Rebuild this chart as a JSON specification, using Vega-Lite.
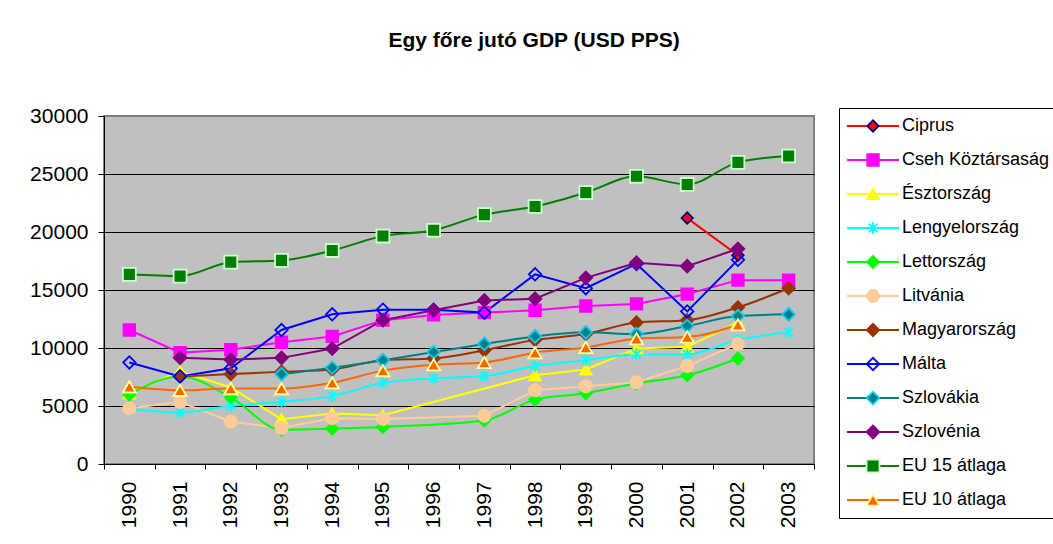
{
  "$schema": "https://vega.github.io/schema/vega-lite/v6.json",
  "padding": {"left": 28, "top": 30, "right": 0, "bottom": 0},
  "background": "white",
  "title": {"text": "Egy főre jutó GDP (USD PPS)", "anchor": "middle", "fontSize": 21, "font": "Liberation Sans", "fontWeight": "bold", "color": "black", "offset": 53, "dx": -8},
  "config": {"font": "Liberation Sans", "text": {"font": "Liberation Sans"}},
  "spacing": 22,
  "datasets": {
    "series": [
      {"orszag": "Ciprus"}, {"orszag": "Cseh Köztársaság"}, {"orszag": "Észtország"}, {"orszag": "Lengyelország"},
      {"orszag": "Lettország"}, {"orszag": "Litvánia"}, {"orszag": "Magyarország"}, {"orszag": "Málta"},
      {"orszag": "Szlovákia"}, {"orszag": "Szlovénia"}, {"orszag": "EU 15 átlaga"}, {"orszag": "EU 10 átlaga"}
    ],
    "gdp": [
      {"orszag": "Ciprus", "ev": "2001", "gdp": 21200},
      {"orszag": "Ciprus", "ev": "2002", "gdp": 18000},
      {"orszag": "Cseh Köztársaság", "ev": "1990", "gdp": 11550},
      {"orszag": "Cseh Köztársaság", "ev": "1991", "gdp": 9600},
      {"orszag": "Cseh Köztársaság", "ev": "1992", "gdp": 9850},
      {"orszag": "Cseh Köztársaság", "ev": "1993", "gdp": 10500},
      {"orszag": "Cseh Köztársaság", "ev": "1994", "gdp": 11000},
      {"orszag": "Cseh Köztársaság", "ev": "1995", "gdp": 12400},
      {"orszag": "Cseh Köztársaság", "ev": "1996", "gdp": 12850},
      {"orszag": "Cseh Köztársaság", "ev": "1997", "gdp": 13050},
      {"orszag": "Cseh Köztársaság", "ev": "1998", "gdp": 13250},
      {"orszag": "Cseh Köztársaság", "ev": "1999", "gdp": 13620},
      {"orszag": "Cseh Köztársaság", "ev": "2000", "gdp": 13800},
      {"orszag": "Cseh Köztársaság", "ev": "2001", "gdp": 14650},
      {"orszag": "Cseh Köztársaság", "ev": "2002", "gdp": 15850},
      {"orszag": "Cseh Köztársaság", "ev": "2003", "gdp": 15850},
      {"orszag": "Észtország", "ev": "1990", "gdp": 6100},
      {"orszag": "Észtország", "ev": "1991", "gdp": 8000},
      {"orszag": "Észtország", "ev": "1992", "gdp": 6600},
      {"orszag": "Észtország", "ev": "1993", "gdp": 3850},
      {"orszag": "Észtország", "ev": "1994", "gdp": 4350},
      {"orszag": "Észtország", "ev": "1995", "gdp": 4200},
      {"orszag": "Észtország", "ev": "1998", "gdp": 7650},
      {"orszag": "Észtország", "ev": "1999", "gdp": 8150},
      {"orszag": "Észtország", "ev": "2000", "gdp": 9950},
      {"orszag": "Észtország", "ev": "2001", "gdp": 10100},
      {"orszag": "Észtország", "ev": "2002", "gdp": 12200},
      {"orszag": "Lengyelország", "ev": "1990", "gdp": 4750},
      {"orszag": "Lengyelország", "ev": "1991", "gdp": 4450},
      {"orszag": "Lengyelország", "ev": "1992", "gdp": 5000},
      {"orszag": "Lengyelország", "ev": "1993", "gdp": 5350},
      {"orszag": "Lengyelország", "ev": "1994", "gdp": 5850},
      {"orszag": "Lengyelország", "ev": "1995", "gdp": 7000},
      {"orszag": "Lengyelország", "ev": "1996", "gdp": 7380},
      {"orszag": "Lengyelország", "ev": "1997", "gdp": 7580},
      {"orszag": "Lengyelország", "ev": "1998", "gdp": 8450},
      {"orszag": "Lengyelország", "ev": "1999", "gdp": 8950},
      {"orszag": "Lengyelország", "ev": "2000", "gdp": 9450},
      {"orszag": "Lengyelország", "ev": "2001", "gdp": 9450},
      {"orszag": "Lengyelország", "ev": "2002", "gdp": 10700},
      {"orszag": "Lengyelország", "ev": "2003", "gdp": 11350},
      {"orszag": "Lettország", "ev": "1990", "gdp": 6000},
      {"orszag": "Lettország", "ev": "1991", "gdp": 7550},
      {"orszag": "Lettország", "ev": "1992", "gdp": 5750},
      {"orszag": "Lettország", "ev": "1993", "gdp": 2950},
      {"orszag": "Lettország", "ev": "1994", "gdp": 3050},
      {"orszag": "Lettország", "ev": "1995", "gdp": 3200},
      {"orszag": "Lettország", "ev": "1997", "gdp": 3750},
      {"orszag": "Lettország", "ev": "1998", "gdp": 5550},
      {"orszag": "Lettország", "ev": "1999", "gdp": 6100},
      {"orszag": "Lettország", "ev": "2000", "gdp": 6950},
      {"orszag": "Lettország", "ev": "2001", "gdp": 7650},
      {"orszag": "Lettország", "ev": "2002", "gdp": 9100},
      {"orszag": "Litvánia", "ev": "1990", "gdp": 4800},
      {"orszag": "Litvánia", "ev": "1991", "gdp": 5350},
      {"orszag": "Litvánia", "ev": "1992", "gdp": 3650},
      {"orszag": "Litvánia", "ev": "1993", "gdp": 3100},
      {"orszag": "Litvánia", "ev": "1994", "gdp": 3950},
      {"orszag": "Litvánia", "ev": "1995", "gdp": 3880},
      {"orszag": "Litvánia", "ev": "1997", "gdp": 4150},
      {"orszag": "Litvánia", "ev": "1998", "gdp": 6350},
      {"orszag": "Litvánia", "ev": "1999", "gdp": 6700},
      {"orszag": "Litvánia", "ev": "2000", "gdp": 7050},
      {"orszag": "Litvánia", "ev": "2001", "gdp": 8450},
      {"orszag": "Litvánia", "ev": "2002", "gdp": 10350},
      {"orszag": "Magyarország", "ev": "1991", "gdp": 7550},
      {"orszag": "Magyarország", "ev": "1992", "gdp": 7750},
      {"orszag": "Magyarország", "ev": "1993", "gdp": 7950},
      {"orszag": "Magyarország", "ev": "1994", "gdp": 8150},
      {"orszag": "Magyarország", "ev": "1995", "gdp": 8950},
      {"orszag": "Magyarország", "ev": "1996", "gdp": 9100},
      {"orszag": "Magyarország", "ev": "1997", "gdp": 9800},
      {"orszag": "Magyarország", "ev": "1998", "gdp": 10700},
      {"orszag": "Magyarország", "ev": "1999", "gdp": 11200},
      {"orszag": "Magyarország", "ev": "2000", "gdp": 12200},
      {"orszag": "Magyarország", "ev": "2001", "gdp": 12400},
      {"orszag": "Magyarország", "ev": "2002", "gdp": 13500},
      {"orszag": "Magyarország", "ev": "2003", "gdp": 15150},
      {"orszag": "Málta", "ev": "1990", "gdp": 8750},
      {"orszag": "Málta", "ev": "1991", "gdp": 7550},
      {"orszag": "Málta", "ev": "1992", "gdp": 8250},
      {"orszag": "Málta", "ev": "1993", "gdp": 11550},
      {"orszag": "Málta", "ev": "1994", "gdp": 12900},
      {"orszag": "Málta", "ev": "1995", "gdp": 13300},
      {"orszag": "Málta", "ev": "1996", "gdp": 13300},
      {"orszag": "Málta", "ev": "1997", "gdp": 13050},
      {"orszag": "Málta", "ev": "1998", "gdp": 16350},
      {"orszag": "Málta", "ev": "1999", "gdp": 15150},
      {"orszag": "Málta", "ev": "2000", "gdp": 17250},
      {"orszag": "Málta", "ev": "2001", "gdp": 13150},
      {"orszag": "Málta", "ev": "2002", "gdp": 17600},
      {"orszag": "Szlovákia", "ev": "1993", "gdp": 7750},
      {"orszag": "Szlovákia", "ev": "1994", "gdp": 8300},
      {"orszag": "Szlovákia", "ev": "1995", "gdp": 8950},
      {"orszag": "Szlovákia", "ev": "1996", "gdp": 9650},
      {"orszag": "Szlovákia", "ev": "1997", "gdp": 10350},
      {"orszag": "Szlovákia", "ev": "1998", "gdp": 11000},
      {"orszag": "Szlovákia", "ev": "1999", "gdp": 11350},
      {"orszag": "Szlovákia", "ev": "2000", "gdp": 11200},
      {"orszag": "Szlovákia", "ev": "2001", "gdp": 11900},
      {"orszag": "Szlovákia", "ev": "2002", "gdp": 12750},
      {"orszag": "Szlovákia", "ev": "2003", "gdp": 12900},
      {"orszag": "Szlovénia", "ev": "1991", "gdp": 9150},
      {"orszag": "Szlovénia", "ev": "1992", "gdp": 9000},
      {"orszag": "Szlovénia", "ev": "1993", "gdp": 9150},
      {"orszag": "Szlovénia", "ev": "1994", "gdp": 9950},
      {"orszag": "Szlovénia", "ev": "1995", "gdp": 12400},
      {"orszag": "Szlovénia", "ev": "1996", "gdp": 13250},
      {"orszag": "Szlovénia", "ev": "1997", "gdp": 14100},
      {"orszag": "Szlovénia", "ev": "1998", "gdp": 14250},
      {"orszag": "Szlovénia", "ev": "1999", "gdp": 16050},
      {"orszag": "Szlovénia", "ev": "2000", "gdp": 17350},
      {"orszag": "Szlovénia", "ev": "2001", "gdp": 17050},
      {"orszag": "Szlovénia", "ev": "2002", "gdp": 18550},
      {"orszag": "EU 15 átlaga", "ev": "1990", "gdp": 16350},
      {"orszag": "EU 15 átlaga", "ev": "1991", "gdp": 16200},
      {"orszag": "EU 15 átlaga", "ev": "1992", "gdp": 17400},
      {"orszag": "EU 15 átlaga", "ev": "1993", "gdp": 17550},
      {"orszag": "EU 15 átlaga", "ev": "1994", "gdp": 18400},
      {"orszag": "EU 15 átlaga", "ev": "1995", "gdp": 19650},
      {"orszag": "EU 15 átlaga", "ev": "1996", "gdp": 20150},
      {"orszag": "EU 15 átlaga", "ev": "1997", "gdp": 21500},
      {"orszag": "EU 15 átlaga", "ev": "1998", "gdp": 22200},
      {"orszag": "EU 15 átlaga", "ev": "1999", "gdp": 23400},
      {"orszag": "EU 15 átlaga", "ev": "2000", "gdp": 24800},
      {"orszag": "EU 15 átlaga", "ev": "2001", "gdp": 24100},
      {"orszag": "EU 15 átlaga", "ev": "2002", "gdp": 26000},
      {"orszag": "EU 15 átlaga", "ev": "2003", "gdp": 26550},
      {"orszag": "EU 10 átlaga", "ev": "1990", "gdp": 6650},
      {"orszag": "EU 10 átlaga", "ev": "1991", "gdp": 6350},
      {"orszag": "EU 10 átlaga", "ev": "1992", "gdp": 6500},
      {"orszag": "EU 10 átlaga", "ev": "1993", "gdp": 6500},
      {"orszag": "EU 10 átlaga", "ev": "1994", "gdp": 7000},
      {"orszag": "EU 10 átlaga", "ev": "1995", "gdp": 8050},
      {"orszag": "EU 10 átlaga", "ev": "1996", "gdp": 8550},
      {"orszag": "EU 10 átlaga", "ev": "1997", "gdp": 8750},
      {"orszag": "EU 10 átlaga", "ev": "1998", "gdp": 9600},
      {"orszag": "EU 10 átlaga", "ev": "1999", "gdp": 10050},
      {"orszag": "EU 10 átlaga", "ev": "2000", "gdp": 10800},
      {"orszag": "EU 10 átlaga", "ev": "2001", "gdp": 10950},
      {"orszag": "EU 10 átlaga", "ev": "2002", "gdp": 12000}
    ]
  },
  "hconcat": [
    {
      "spacing": 0,
      "bounds": "flush",
      "vconcat": [
        {
          "width": 710,
          "height": 8,
          "view": {"stroke": null, "fill": null},
          "data": {"values": []},
          "mark": "point"
        },
        {
          "width": 710,
          "height": 348,
          "view": {"fill": "#C0C0C0", "stroke": "#808080", "strokeWidth": 2},
          "data": {"name": "gdp"},
          "encoding": {
            "x": {
              "field": "ev", "type": "ordinal",
              "scale": {"type": "band", "domain": ["1990","1991","1992","1993","1994","1995","1996","1997","1998","1999","2000","2001","2002","2003"], "paddingInner": 0, "paddingOuter": 0},
              "axis": {"title": null, "tickBand": "extent", "labelAngle": -90, "labelAlign": "right", "labelBaseline": "middle", "labelFontSize": 21, "labelFont": "Liberation Sans", "labelColor": "black", "tickSize": 5, "tickColor": "black", "domainColor": "black", "labelPadding": 12, "grid": false}
            },
            "y": {
              "field": "gdp", "type": "quantitative",
              "scale": {"domain": [0, 30000], "nice": false},
              "axis": {"title": null, "values": [0,5000,10000,15000,20000,25000,30000], "format": "d", "labelFontSize": 21, "labelFont": "Liberation Sans", "labelColor": "black", "tickSize": 6, "tickColor": "black", "domainColor": "black", "labelPadding": 10, "grid": true, "gridOpacity": 1, "gridColor": {"condition": {"test": "datum.value === 30000", "value": "#808080"}, "value": "black"}, "gridWidth": 1}
            }
          },
          "layer": [
            {
              "transform": [{"filter": {"field": "orszag", "oneOf": ["Ciprus","Cseh Köztársaság","Észtország","Litvánia","Málta","Szlovénia"]}}],
              "mark": {"type": "line", "strokeWidth": 2},
              "encoding": {
                "color": {"field": "orszag", "type": "nominal", "legend": null,
                  "scale": {"domain": ["Ciprus","Cseh Köztársaság","Észtország","Lengyelország","Lettország","Litvánia","Magyarország","Málta","Szlovákia","Szlovénia","EU 15 átlaga","EU 10 átlaga"],
                            "range": ["#FF0000","#FF00FF","#FFFF00","#00FFFF","#00FF00","#FFCC99","#993300","#0000FF","#008080","#800080","#008000","#FF6600"]}}
              }
            },
            {
              "transform": [{"filter": {"field": "orszag", "oneOf": ["Lengyelország","Lettország","Magyarország","Szlovákia","EU 15 átlaga","EU 10 átlaga"]}}],
              "mark": {"type": "line", "strokeWidth": 2, "interpolate": "monotone"},
              "encoding": {
                "color": {"field": "orszag", "type": "nominal", "legend": null}
              }
            },
            {
              "mark": {"type": "point", "filled": true, "opacity": 1, "strokeWidth": 1.8},
              "encoding": {
                "shape": {"field": "orszag", "type": "nominal", "legend": null,
                  "scale": {"domain": ["Ciprus","Cseh Köztársaság","Észtország","Lengyelország","Lettország","Litvánia","Magyarország","Málta","Szlovákia","Szlovénia","EU 15 átlaga","EU 10 átlaga"],
                            "range": ["diamond","square","triangle-up","M0,-1V1M-0.75,-0.75L0.75,0.75M-0.75,0.75L0.75,-0.75","diamond","circle","diamond","diamond","diamond","diamond","square","triangle-up"]}},
                "fill": {"field": "orszag", "type": "nominal", "legend": null,
                  "scale": {"domain": ["Ciprus","Cseh Köztársaság","Észtország","Lengyelország","Lettország","Litvánia","Magyarország","Málta","Szlovákia","Szlovénia","EU 15 átlaga","EU 10 átlaga"],
                            "range": ["#FF0000","#FF00FF","#FFFF00","#00FFFF","#00FF00","#FFCC99","#993300","transparent","#008080","#800080","#008000","#FF6600"]}},
                "stroke": {"field": "orszag", "type": "nominal", "legend": null,
                  "scale": {"domain": ["Ciprus","Cseh Köztársaság","Észtország","Lengyelország","Lettország","Litvánia","Magyarország","Málta","Szlovákia","Szlovénia","EU 15 átlaga","EU 10 átlaga"],
                            "range": ["#000080","#FF00FF","#FFFF00","#00FFFF","#00FF00","#FFCC99","#993300","#0000FF","#00CCFF","#800080","#CCFFCC","#FFFF99"]}},
                "size": {"field": "orszag", "type": "nominal", "legend": null,
                  "scale": {"domain": ["Ciprus","Cseh Köztársaság","Észtország","Lengyelország","Lettország","Litvánia","Magyarország","Málta","Szlovákia","Szlovénia","EU 15 átlaga","EU 10 átlaga"],
                            "range": [130,170,150,170,140,170,150,120,140,150,120,150]}}
              }
            }
          ]
        }
      ]
    },
    {
      "width": 216,
      "height": 410,
      "view": {"fill": "white", "stroke": "black", "strokeWidth": 1},
      "data": {"name": "series"},
      "encoding": {
        "y": {"field": "orszag", "type": "nominal", "axis": null,
          "scale": {"type": "point", "padding": 0.53, "domain": ["Ciprus","Cseh Köztársaság","Észtország","Lengyelország","Lettország","Litvánia","Magyarország","Málta","Szlovákia","Szlovénia","EU 15 átlaga","EU 10 átlaga"]}}
      },
      "layer": [
        {
          "mark": {"type": "rule", "strokeWidth": 2},
          "encoding": {
            "x": {"datum": 8, "type": "quantitative", "scale": {"domain": [0, 216], "nice": false}, "axis": null},
            "x2": {"datum": 60},
            "color": {"field": "orszag", "type": "nominal", "legend": null,
              "scale": {"domain": ["Ciprus","Cseh Köztársaság","Észtország","Lengyelország","Lettország","Litvánia","Magyarország","Málta","Szlovákia","Szlovénia","EU 15 átlaga","EU 10 átlaga"],
                        "range": ["#FF0000","#FF00FF","#FFFF00","#00FFFF","#00FF00","#FFCC99","#993300","#0000FF","#008080","#800080","#008000","#FF6600"]}}
          }
        },
        {
          "mark": {"type": "point", "filled": true, "opacity": 1, "strokeWidth": 1.8},
          "encoding": {
            "x": {"datum": 34, "type": "quantitative"},
            "shape": {"field": "orszag", "type": "nominal", "legend": null,
              "scale": {"domain": ["Ciprus","Cseh Köztársaság","Észtország","Lengyelország","Lettország","Litvánia","Magyarország","Málta","Szlovákia","Szlovénia","EU 15 átlaga","EU 10 átlaga"],
                        "range": ["diamond","square","triangle-up","M0,-1V1M-0.75,-0.75L0.75,0.75M-0.75,0.75L0.75,-0.75","diamond","circle","diamond","diamond","diamond","diamond","square","triangle-up"]}},
            "fill": {"field": "orszag", "type": "nominal", "legend": null,
              "scale": {"domain": ["Ciprus","Cseh Köztársaság","Észtország","Lengyelország","Lettország","Litvánia","Magyarország","Málta","Szlovákia","Szlovénia","EU 15 átlaga","EU 10 átlaga"],
                        "range": ["#FF0000","#FF00FF","#FFFF00","#00FFFF","#00FF00","#FFCC99","#993300","white","#008080","#800080","#008000","#FF6600"]}},
            "stroke": {"field": "orszag", "type": "nominal", "legend": null,
              "scale": {"domain": ["Ciprus","Cseh Köztársaság","Észtország","Lengyelország","Lettország","Litvánia","Magyarország","Málta","Szlovákia","Szlovénia","EU 15 átlaga","EU 10 átlaga"],
                        "range": ["#000080","#FF00FF","#FFFF00","#00FFFF","#00FF00","#FFCC99","#993300","#0000FF","#00CCFF","#800080","#CCFFCC","#FFFF99"]}},
            "size": {"field": "orszag", "type": "nominal", "legend": null,
              "scale": {"domain": ["Ciprus","Cseh Köztársaság","Észtország","Lengyelország","Lettország","Litvánia","Magyarország","Málta","Szlovákia","Szlovénia","EU 15 átlaga","EU 10 átlaga"],
                        "range": [110,150,140,150,120,150,120,100,120,120,100,130]}}
          }
        },
        {
          "mark": {"type": "text", "align": "left", "baseline": "middle", "fontSize": 18, "font": "Liberation Sans", "color": "black"},
          "encoding": {
            "x": {"datum": 63, "type": "quantitative"},
            "text": {"field": "orszag"}
          }
        }
      ]
    }
  ]
}
